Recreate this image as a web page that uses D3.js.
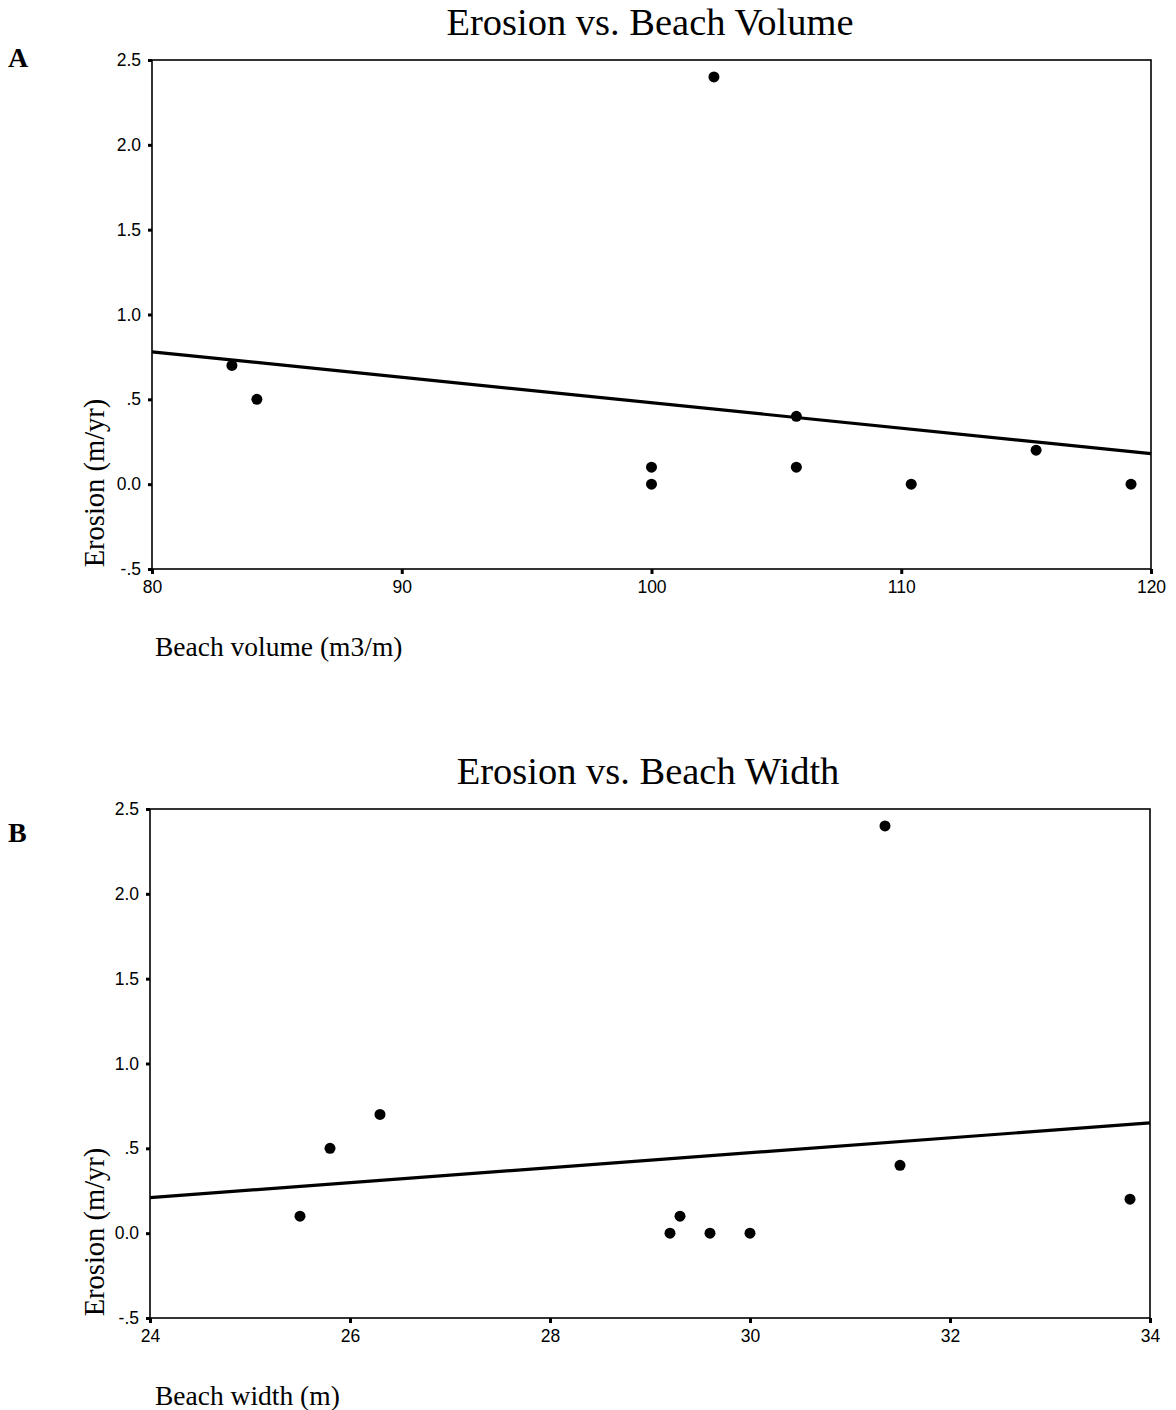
<!DOCTYPE html>
<html><head><meta charset="utf-8">
<script src="https://cdn.jsdelivr.net/npm/d3@7"></script>
<style>body{margin:0;background:#fff}</style>
</head><body>
<svg id="chart" width="1176" height="1410"></svg>
<script>
// Panel A: erosion vs beach volume
const volumeX = [83.2, 84.2, 100.0, 100.0, 102.5, 105.8, 105.8, 110.4, 115.4, 119.2];
const volumeY = [0.70, 0.50, 0.10, 0.00, 2.40, 0.40, 0.10, 0.00, 0.20, 0.00];
const volumeFit = [[80, 0.78], [120, 0.18]];
const volumeTicks = [80, 90, 100, 110, 120];
// Panel B: erosion vs beach width
const widthX = [25.5, 25.8, 26.3, 29.2, 29.3, 29.6, 30.0, 31.35, 31.5, 33.8];
const widthY = [0.10, 0.50, 0.70, 0.00, 0.10, 0.00, 0.00, 2.40, 0.40, 0.20];
const widthFit = [[24, 0.21], [34, 0.65]];
const widthTicks = [24, 26, 28, 30, 32, 34];
const yTicks = [-0.5, 0, 0.5, 1.0, 1.5, 2.0, 2.5];
const yTickLabels = ["-.5", "0.0", ".5", "1.0", "1.5", "2.0", "2.5"];

const svg = d3.select("#chart");
const serif = "'Liberation Serif','Times New Roman',serif";
const sans = "'Liberation Sans',Arial,sans-serif";

function panel(o) {
  const x = d3.scaleLinear().domain(o.xDomain).range([o.left, o.right]);
  const y = d3.scaleLinear().domain([-0.5, 2.5]).range([o.bottom, o.top]);
  const g = svg.append("g");
  // frame
  g.append("rect").attr("x", o.left).attr("y", o.top)
    .attr("width", o.right - o.left).attr("height", o.bottom - o.top)
    .attr("fill", "none").attr("stroke", "#000").attr("stroke-width", 1.6);
  // y axis
  const ya = g.append("g").attr("transform", `translate(${o.left},0)`)
    .call(d3.axisLeft(y).tickValues(yTicks).tickSize(4).tickPadding(7)
      .tickFormat((d, i) => yTickLabels[i]));
  ya.select(".domain").remove();
  ya.selectAll("line").attr("stroke-width", 3);
  ya.selectAll("text").attr("font-family", sans).attr("font-size", 17.5).attr("fill", "#000");
  // x axis
  const xa = g.append("g").attr("transform", `translate(0,${o.bottom})`)
    .call(d3.axisBottom(x).tickValues(o.xTicks).tickSize(5).tickPadding(7).tickFormat(d3.format("d")));
  xa.select(".domain").remove();
  xa.selectAll("line").attr("stroke-width", 3);
  xa.selectAll("text").attr("font-family", sans).attr("font-size", 17.5).attr("fill", "#000");
  // fit line
  g.append("path").datum(o.fit)
    .attr("d", d3.line().x(d => x(d[0])).y(d => y(d[1])))
    .attr("stroke", "#000").attr("stroke-width", 3.2).attr("fill", "none");
  // points
  g.selectAll("circle.pt").data(o.xs.map((v, i) => [v, o.ys[i]])).join("circle")
    .attr("class", "pt").attr("cx", d => x(d[0])).attr("cy", d => y(d[1]))
    .attr("r", 5.5).attr("fill", "#000");
  // title
  g.append("text").attr("x", o.titleX).attr("y", o.titleY).attr("text-anchor", "middle")
    .attr("font-family", serif).attr("font-size", 38.5).text(o.title);
  // panel letter
  g.append("text").attr("x", 8).attr("y", o.letterY)
    .attr("font-family", serif).attr("font-weight", "bold").attr("font-size", 28).text(o.letter);
  // y label
  g.append("text").attr("transform", `translate(104,${o.yLabelY}) rotate(-90)`)
    .attr("text-anchor", "middle").attr("font-family", serif).attr("font-size", 28.5)
    .text("Erosion (m/yr)");
  // x label
  g.append("text").attr("x", 155).attr("y", o.xLabelY)
    .attr("font-family", serif).attr("font-size", 27.5).text(o.xLabel);
}

panel({xDomain: [80, 120], xTicks: volumeTicks, xs: volumeX, ys: volumeY, fit: volumeFit,
  left: 152, right: 1151, top: 60, bottom: 569,
  title: "Erosion vs. Beach Volume", titleX: 650, titleY: 35,
  letter: "A", letterY: 67, yLabelY: 483, xLabel: "Beach volume (m3/m)", xLabelY: 656});

panel({xDomain: [24, 34], xTicks: widthTicks, xs: widthX, ys: widthY, fit: widthFit,
  left: 150, right: 1150, top: 809, bottom: 1318,
  title: "Erosion vs. Beach Width", titleX: 648, titleY: 784,
  letter: "B", letterY: 842, yLabelY: 1232, xLabel: "Beach width (m)", xLabelY: 1405});
</script>
</body></html>
